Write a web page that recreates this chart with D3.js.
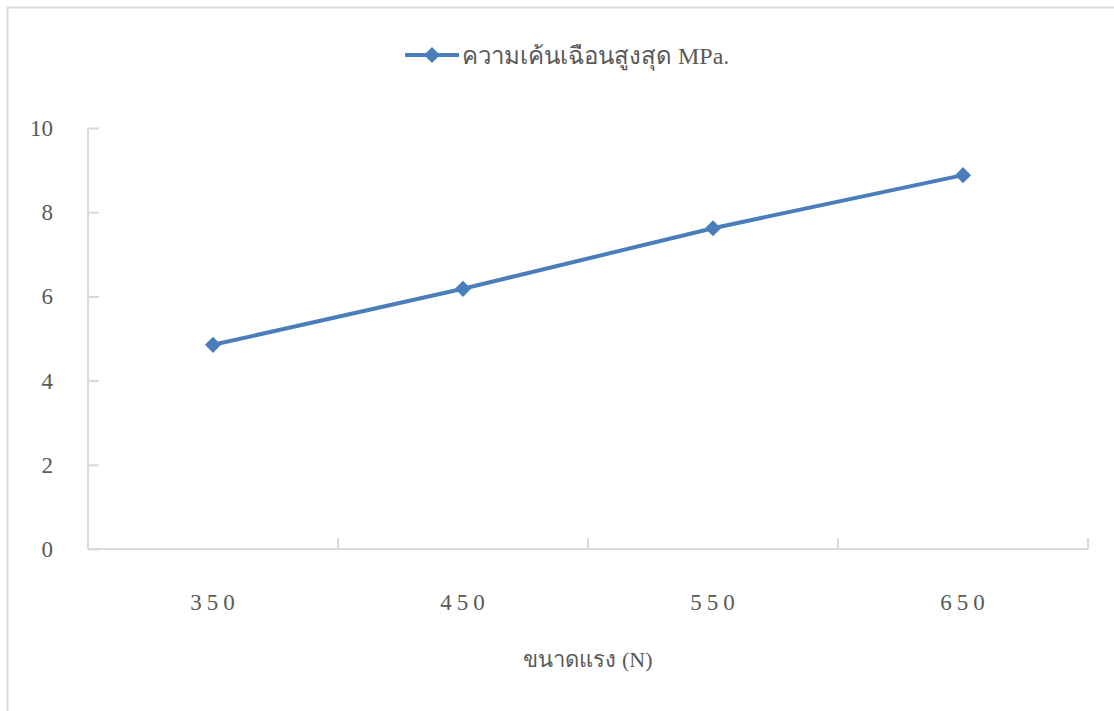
<!DOCTYPE html>
<html><head><meta charset="utf-8">
<script src="https://cdn.jsdelivr.net/npm/d3@7"></script>
<style>body{margin:0;background:#fff;} svg{display:block;} text{font-family:"Liberation Serif","Times New Roman",serif;fill:#595959;}</style>
</head><body>
<svg id="c" width="1114" height="711"></svg>
<script>
const categories = ["350","450","550","650"];
const values = [4.85, 6.18, 7.62, 8.88];
const yTicks = [0,2,4,6,8,10];
const seriesName = "ความเค้นเฉือนสูงสุด MPa.";
const xTitle = "ขนาดแรง (N)";

(function(){
const svg = d3.select("#c");
const color = "#4a7ebb";
const axisColor = "#d9d9d9";
svg.append("rect").attr("x",7.5).attr("y",7.5).attr("width",1200).attr("height",800)
  .attr("fill","none").attr("stroke",axisColor).attr("stroke-width",2);

const pl=88, pr=1088, pt=128, pb=549;
const x = d3.scaleBand().domain(categories).range([pl,pr]);
const y = d3.scaleLinear().domain([0,10]).range([pb,pt]);

// y axis
const ya = svg.append("g").attr("transform",`translate(${pl},0)`)
  .call(d3.axisRight(y).tickValues(yTicks).tickSize(11).tickFormat(""));
ya.select(".domain").attr("stroke",axisColor).attr("stroke-width",2).attr("d",`M0,${pt}V${pb}`);
ya.selectAll(".tick line").attr("stroke",axisColor).attr("stroke-width",2);
svg.append("g").selectAll("text").data(yTicks).join("text")
  .attr("x",53).attr("y",d=>y(d)+8).attr("text-anchor","end")
  .style("font-size","23px").text(d=>d);

// x axis
const bounds = categories.map(c=>x(c)).concat([pr]);
svg.append("line").attr("x1",pl).attr("x2",pr).attr("y1",pb).attr("y2",pb)
  .attr("stroke",axisColor).attr("stroke-width",2);
svg.append("g").selectAll("line").data(bounds).join("line")
  .attr("x1",d=>d).attr("x2",d=>d).attr("y1",pb).attr("y2",pb-11)
  .attr("stroke",axisColor).attr("stroke-width",2);
svg.append("g").selectAll("text").data(categories).join("text")
  .attr("x",d=>x(d)+x.bandwidth()/2+2).attr("y",610).attr("text-anchor","middle")
  .style("font-size","23px").style("letter-spacing","5px").text(d=>d);

svg.append("text").attr("x",588).attr("y",667).attr("text-anchor","middle")
  .style("font-size","22px").text(xTitle);

// series
const cx = (d,i)=>x(categories[i])+x.bandwidth()/2;
const line = d3.line().x((d,i)=>cx(d,i)).y(d=>y(d));
svg.append("path").datum(values).attr("d",line).attr("fill","none")
  .attr("stroke",color).attr("stroke-width",4).attr("stroke-linejoin","round");
const sym = d3.symbol().type(d3.symbolSquare).size(130);
svg.append("g").selectAll("path").data(values).join("path")
  .attr("transform",(d,i)=>`translate(${cx(d,i)},${y(d)}) rotate(45)`)
  .attr("d",sym).attr("fill",color);

// legend
const lg = svg.append("g");
lg.append("line").attr("x1",405).attr("x2",459).attr("y1",55).attr("y2",55)
  .attr("stroke",color).attr("stroke-width",4);
lg.append("path").attr("transform","translate(432,55) rotate(45)").attr("d",sym).attr("fill",color);
lg.append("text").attr("x",462).attr("y",64).style("font-size","24px").text(seriesName);
})();
</script>
</body></html>
